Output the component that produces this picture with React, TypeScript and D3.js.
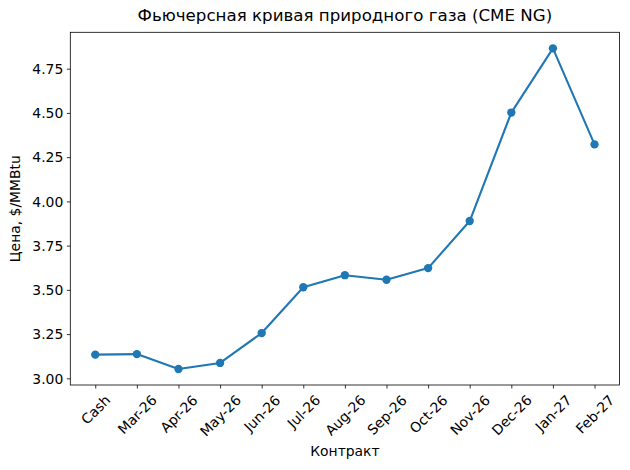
import React, { useEffect, useRef } from 'react';
import * as d3 from 'd3';

// Contracts and settlement prices, $/MMBtu
const contracts = [
  'Cash', 'Mar-26', 'Apr-26', 'May-26', 'Jun-26', 'Jul-26', 'Aug-26',
  'Sep-26', 'Oct-26', 'Nov-26', 'Dec-26', 'Jan-27', 'Feb-27',
];
const prices = [
  3.134, 3.137, 3.053, 3.087, 3.256, 3.515, 3.583,
  3.557, 3.623, 3.889, 4.502, 4.865, 4.322,
];
const yTicks = [3.0, 3.25, 3.5, 3.75, 4.0, 4.25, 4.5, 4.75];

const title = 'Фьючерсная кривая природного газа (CME NG)';
const xLabel = 'Контракт';
const yLabel = 'Цена, $/MMBtu';

const WIDTH = 630;
const HEIGHT = 470;
const FONT = '"DejaVu Sans", sans-serif';
const COLOR = '#1f77b4';

export default function App() {
  const svgRef = useRef<SVGSVGElement>(null);

  useEffect(() => {
    if (!svgRef.current) return;
    const svg = d3.select(svgRef.current);
    svg.selectAll('*').remove();

    const margin = { top: 32.3, right: 10.5, bottom: 85, left: 70.3 };
    const innerWidth = WIDTH - margin.left - margin.right;
    const innerHeight = HEIGHT - margin.top - margin.bottom;

    svg.append('rect').attr('width', WIDTH).attr('height', HEIGHT).attr('fill', '#fff');

    const g = svg
      .append('g')
      .attr('transform', `translate(${margin.left},${margin.top})`);

    // Scales (matplotlib style 5% margins)
    const n = contracts.length;
    const xScale = d3
      .scalePoint<string>()
      .domain(contracts)
      .range([0, innerWidth])
      .padding(((n - 1) * 0.05));

    const lo = d3.min(prices) as number;
    const hi = d3.max(prices) as number;
    const pad = (hi - lo) * 0.05;
    const yScale = d3
      .scaleLinear()
      .domain([lo - pad, hi + pad])
      .range([innerHeight, 0]);

    // Y axis
    const yAxis = g
      .append('g')
      .call(
        d3.axisLeft(yScale)
          .tickValues(yTicks)
          .tickSize(3.5)
          .tickPadding(3.5)
          .tickFormat(d3.format('.2f'))
      );
    yAxis.select('.domain').remove();
    yAxis.selectAll('line').attr('stroke', '#000').attr('stroke-width', 0.8);
    yAxis
      .selectAll('text')
      .attr('font-family', FONT)
      .attr('font-size', '13.9px')
      .attr('fill', '#000')
      .attr('dy', '0.346em');

    // X axis
    const xAxis = g
      .append('g')
      .attr('transform', `translate(0,${innerHeight})`)
      .call(d3.axisBottom(xScale).tickSize(3.5).tickPadding(3.5));
    xAxis.select('.domain').remove();
    xAxis.selectAll('line').attr('stroke', '#000').attr('stroke-width', 0.8);
    xAxis
      .selectAll<SVGTextElement, string>('text')
      .attr('font-family', FONT)
      .attr('font-size', '13.9px')
      .attr('fill', '#000')
      .attr('text-anchor', 'middle')
      .attr('y', 0)
      .attr('dy', '0.346em')
      .each(function () {
        const w = this.getComputedTextLength();
        const h = 13.9 * 1.164;
        const boxH = (w + h) * Math.SQRT1_2;
        d3.select(this).attr('transform', `translate(0,${7 + boxH / 2}) rotate(-45)`);
      });

    // Line + markers
    const line = d3
      .line<number>()
      .x((_, i) => xScale(contracts[i]) as number)
      .y(d => yScale(d));

    g.append('path')
      .datum(prices)
      .attr('fill', 'none')
      .attr('stroke', COLOR)
      .attr('stroke-width', 2.08)
      .attr('stroke-linejoin', 'round')
      .attr('d', line);

    g.selectAll('circle')
      .data(prices)
      .join('circle')
      .attr('cx', (_, i) => xScale(contracts[i]) as number)
      .attr('cy', d => yScale(d))
      .attr('r', 4.17)
      .attr('fill', COLOR);

    // Spines
    g.append('rect')
      .attr('width', innerWidth)
      .attr('height', innerHeight)
      .attr('fill', 'none')
      .attr('stroke', '#000')
      .attr('stroke-width', 0.8);

    // Title and axis labels
    svg.append('text')
      .attr('x', margin.left + innerWidth / 2)
      .attr('y', 20.5)
      .attr('text-anchor', 'middle')
      .attr('font-family', FONT)
      .attr('font-size', '16.67px')
      .text(title);

    svg.append('text')
      .attr('x', margin.left + innerWidth / 2)
      .attr('y', 455.5)
      .attr('text-anchor', 'middle')
      .attr('font-family', FONT)
      .attr('font-size', '13.9px')
      .text(xLabel);

    svg.append('text')
      .attr('transform', `translate(20.2,${margin.top + innerHeight / 2}) rotate(-90)`)
      .attr('text-anchor', 'middle')
      .attr('font-family', FONT)
      .attr('font-size', '13.9px')
      .text(yLabel);
  }, []);

  return (
    <svg
      ref={svgRef}
      width={WIDTH}
      height={HEIGHT}
      style={{ position: 'absolute', left: 0, top: 0, display: 'block' }}
    />
  );
}
